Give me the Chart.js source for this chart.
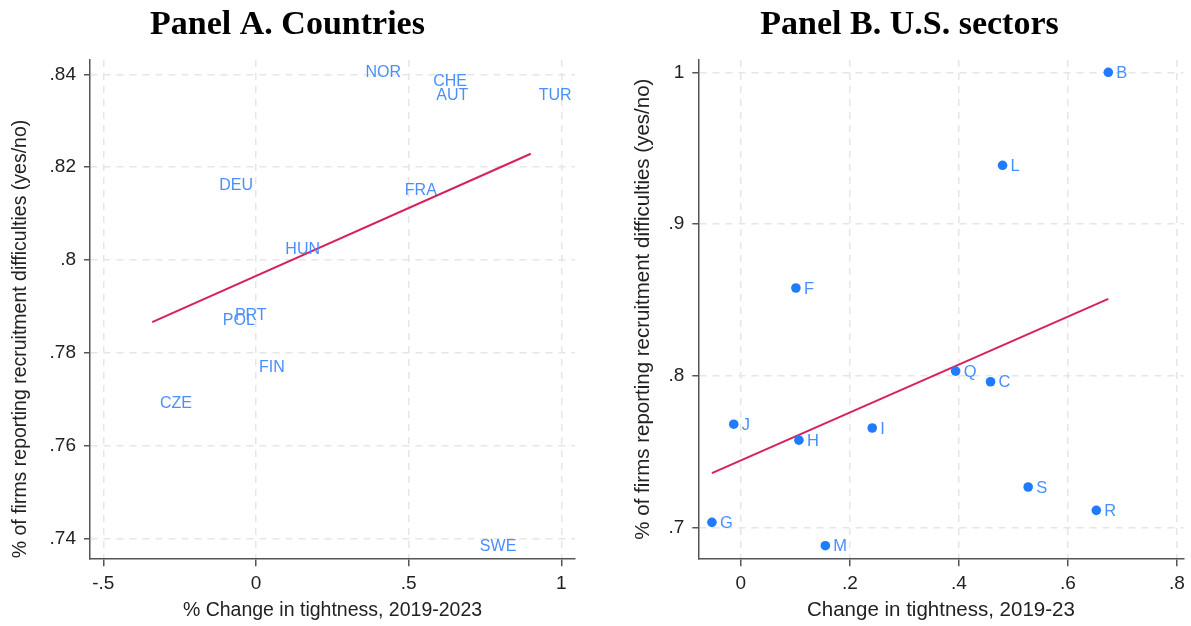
<!DOCTYPE html>
<html><head><meta charset="utf-8">
<script src="https://cdn.jsdelivr.net/npm/chart.js@4/dist/chart.umd.min.js"></script>
<style>
html,body{margin:0;padding:0;background:#fff;overflow:hidden;}
#wrapA{position:absolute;left:0;top:0;width:580px;height:626px;}
#wrapB{position:absolute;left:630px;top:0;width:561px;height:626px;}
</style></head><body>
<div id="wrapA"><canvas id="cA"></canvas></div>
<div id="wrapB"><canvas id="cB"></canvas></div>
<script>
// ---- Panel A data ----
const countries = ['NOR','CHE','AUT','TUR','DEU','FRA','HUN','PRT','POL','FIN','CZE','SWE'];
const countryTightness = [0.417,0.636,0.643,0.980,-0.065,0.540,0.153,-0.017,-0.056,0.052,-0.262,0.793];
const countryRecruit = [0.8404,0.8384,0.8354,0.8354,0.8160,0.8149,0.8023,0.7880,0.7870,0.7769,0.7690,0.7382];
const countryFitX = [-0.34, 0.90];
const countryFitY = [0.7866, 0.8229];
const countryXTicks = [-0.5,0,0.5,1];
const countryXTickLabels = ['-.5','0','.5','1'];
const countryYTicks = [0.74,0.76,0.78,0.80,0.82,0.84];
const countryYTickLabels = ['.74','.76','.78','.8','.82','.84'];

// ---- Panel B data ----
const sectors = ['B','L','F','Q','C','J','I','H','S','R','G','M'];
const sectorTightness = [0.674,0.480,0.101,0.394,0.458,-0.013,0.241,0.1065,0.527,0.652,-0.053,0.155];
const sectorRecruit = [1.000,0.9387,0.8578,0.8030,0.7960,0.7680,0.7655,0.7575,0.7266,0.7112,0.7033,0.6879];
const sectorFitX = [-0.053, 0.674];
const sectorFitY = [0.7358, 0.8506];
const sectorXTicks = [0,0.2,0.4,0.6,0.8];
const sectorXTickLabels = ['0','.2','.4','.6','.8'];
const sectorYTicks = [0.7,0.8,0.9,1];
const sectorYTickLabels = ['.7','.8','.9','1'];

const yTitle = '% of firms reporting recruitment difficulties (yes/no)';
const SANS = "'Liberation Sans', Arial, sans-serif";
const SERIF = "'Liberation Serif', 'Times New Roman', serif";

const pointLabels = {
  id: 'pointLabels',
  afterDatasetsDraw(chart, args, opts) {
    const meta = chart.getDatasetMeta(0);
    const ctx = chart.ctx;
    ctx.save();
    ctx.font = opts.font;
    ctx.fillStyle = opts.color;
    ctx.textAlign = opts.align;
    ctx.textBaseline = 'middle';
    meta.data.forEach((pt, i) => {
      ctx.fillText(opts.labels[i], pt.x + opts.dx, pt.y + opts.dy);
    });
    ctx.restore();
  }
};

function axis(cfg) {
  return {
    type: 'linear',
    min: cfg.min, max: cfg.max,
    afterBuildTicks: s => { s.ticks = cfg.ticks.map(v => ({ value: v })); },
    afterFit: s => { if (cfg.isX) s.height = cfg.fit; else s.width = cfg.fit; },
    ticks: {
      callback: (v, i) => cfg.labels[i],
      font: { family: SANS, size: cfg.tickSize, lineHeight: 1.2 },
      color: '#222',
      padding: cfg.isX ? 6 : 8,
      maxRotation: 0, minRotation: 0, autoSkip: false
    },
    grid: {
      color: '#e6e6e6', lineWidth: 1.5,
      drawTicks: true, tickLength: cfg.isX ? 8 : 6,
      tickColor: '#555', tickWidth: 1.5, tickBorderDash: []
    },
    border: { display: true, color: '#555', width: 1.5, dash: [7, 6] },
    title: {
      display: true, text: cfg.title, align: cfg.align || 'center',
      font: { family: SANS, size: cfg.titleSize, lineHeight: 1.2 },
      color: '#222',
      padding: cfg.titlePad
    }
  };
}

Chart.defaults.animation = false;

new Chart(document.getElementById('cA'), {
  type: 'scatter',
  data: {
    datasets: [
      {
        data: countries.map((c, i) => ({ x: countryTightness[i], y: countryRecruit[i] })),
        pointRadius: 0, pointHoverRadius: 0
      },
      {
        data: countryFitX.map((x, i) => ({ x: x, y: countryFitY[i] })),
        showLine: true, borderColor: '#d6215b', borderWidth: 2, pointRadius: 0, fill: false
      }
    ]
  },
  options: {
    responsive: true, maintainAspectRatio: false, devicePixelRatio: 1,
    layout: { padding: { left: 0, right: 5, top: 0, bottom: 0 } },
    plugins: {
      legend: { display: false },
      tooltip: { enabled: false },
      title: {
        display: true, text: 'Panel A. Countries',
        font: { family: SERIF, size: 34, weight: 'bold', lineHeight: 1.2 },
        color: '#000', padding: { top: 5, bottom: 14.2 }
      },
      pointLabels: {
        labels: countries, font: "16px " + SANS, color: '#4a8fff',
        align: 'center', dx: 0, dy: 0
      }
    },
    scales: {
      x: axis({ ticks: countryXTicks, labels: countryXTickLabels, min: -0.5436, max: 1.0449,
                isX: true, fit: 67.7, title: '% Change in tightness, 2019-2023',
                tickSize: 19, titleSize: 19.5, titlePad: { top: 0, bottom: 3.5 } }),
      y: axis({ ticks: countryYTicks, labels: countryYTickLabels, min: 0.7357, max: 0.8431,
                isX: false, fit: 90, title: yTitle, align: 'start',
                tickSize: 19, titleSize: 19.5, titlePad: { top: 9, bottom: 0 } })
    }
  },
  plugins: [pointLabels]
});

new Chart(document.getElementById('cB'), {
  type: 'scatter',
  data: {
    datasets: [
      {
        data: sectors.map((c, i) => ({ x: sectorTightness[i], y: sectorRecruit[i] })),
        pointRadius: 4.8, pointHoverRadius: 4.8,
        pointBackgroundColor: '#1f7bff', pointBorderColor: '#1f7bff', pointBorderWidth: 0
      },
      {
        data: sectorFitX.map((x, i) => ({ x: x, y: sectorFitY[i] })),
        showLine: true, borderColor: '#d6215b', borderWidth: 2, pointRadius: 0, fill: false
      }
    ]
  },
  options: {
    responsive: true, maintainAspectRatio: false, devicePixelRatio: 1,
    layout: { padding: { left: 0, right: 2, top: 0, bottom: 0 } },
    plugins: {
      legend: { display: false },
      tooltip: { enabled: false },
      title: {
        display: true, text: 'Panel B. U.S. sectors',
        font: { family: SERIF, size: 34, weight: 'bold', lineHeight: 1.2 },
        color: '#000', padding: { top: 5, bottom: 14.2 }
      },
      pointLabels: {
        labels: sectors, font: "16.5px " + SANS, color: '#4a8fff',
        align: 'left', dx: 8, dy: 1
      }
    },
    scales: {
      x: axis({ ticks: sectorXTicks, labels: sectorXTickLabels, min: -0.078, max: 0.812,
                isX: true, fit: 67.7, title: 'Change in tightness, 2019-23',
                tickSize: 19, titleSize: 20.5, titlePad: { top: 0, bottom: 3 } }),
      y: axis({ ticks: sectorYTicks, labels: sectorYTickLabels, min: 0.6796, max: 1.0081,
                isX: false, fit: 68.3, title: yTitle,
                tickSize: 19, titleSize: 20.5, titlePad: { top: 1, bottom: 0 } })
    }
  },
  plugins: [pointLabels]
});
</script>
</body></html>
